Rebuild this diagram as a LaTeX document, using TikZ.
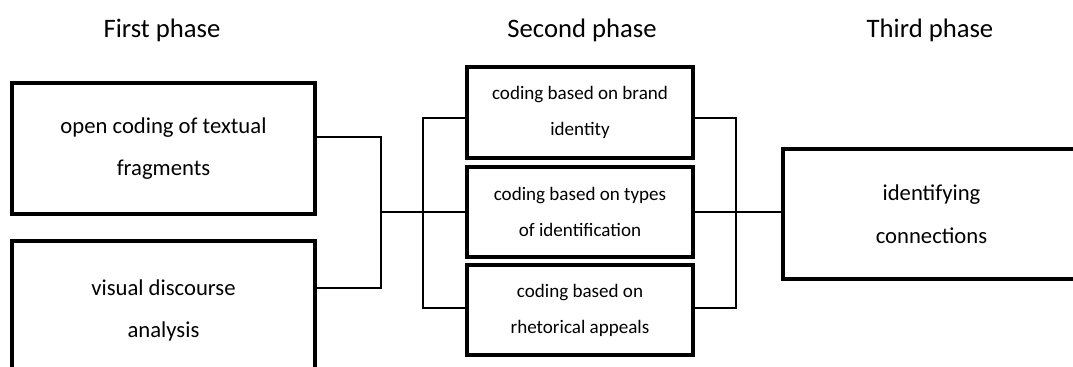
\documentclass[tikz,border=0pt]{standalone}
\usepackage{fontspec}
\setmainfont{Carlito}
\usepackage{tikz}
\usetikzlibrary{calc}

\begin{document}
\begin{tikzpicture}[x=0.75pt,y=-0.75pt]
\tikzstyle{phase}=[anchor=base,inner sep=0pt,font=\fontsize{20}{24}\selectfont]
\tikzstyle{bigbox}=[draw,line width=3pt,rectangle,minimum width=227pt,minimum height=98pt,inner sep=0pt,align=center,font=\fontsize{17}{32}\selectfont]
\tikzstyle{midbox}=[draw,line width=3pt,rectangle,minimum width=169pt,minimum height=68pt,inner sep=0pt,align=center,font=\fontsize{14.3}{27}\selectfont]
\tikzstyle{link}=[line width=0.9pt]
\useasboundingbox (0,0) rectangle (1073,367);
\clip (0,0) rectangle (1073,367);
\node[phase] (P_1) at (162,38) {First phase};
\node[phase] (P_2) at (582,38) {Second phase};
\node[phase] (P_3) at (930,38) {Third phase};
\node[bigbox] (L_1) at (163.5,148.5) {open coding of textual\\fragments};
\node[bigbox,minimum height=104pt] (L_2) at (163.5,310.5) {visual discourse\\analysis};
\node[midbox] (M_1) at (580,112.5) {coding based on brand\\identity};
\node[midbox] (M_2) at (580,212) {coding based on types\\of identification};
\node[midbox] (M_3) at (580,310) {coding based on\\rhetorical appeals};
\node[bigbox,minimum width=223pt] (R_1) at (931.5,214) {identifying\\connections};
\coordinate (J_1) at (381,137);
\coordinate (J_2) at (381,288);
\coordinate (J_3) at (381,212);
\coordinate (K_1) at (423,118);
\coordinate (K_2) at (423,308);
\coordinate (N_1) at (736,118);
\coordinate (N_2) at (736,308);
\draw[link] (L_1.east |- J_1) -- (J_1) -- (J_2) -- (L_2.east |- J_2);
\draw[link] (J_3) -- (M_2.west);
\draw[link] (M_1.west |- K_1) -- (K_1) -- (K_2) -- (M_3.west |- K_2);
\draw[link] (M_1.east |- N_1) -- (N_1) -- (N_2) -- (M_3.east |- N_2);
\draw[link] (M_2.east) -- (R_1.west |- M_2.east);
\end{tikzpicture}
\end{document}
